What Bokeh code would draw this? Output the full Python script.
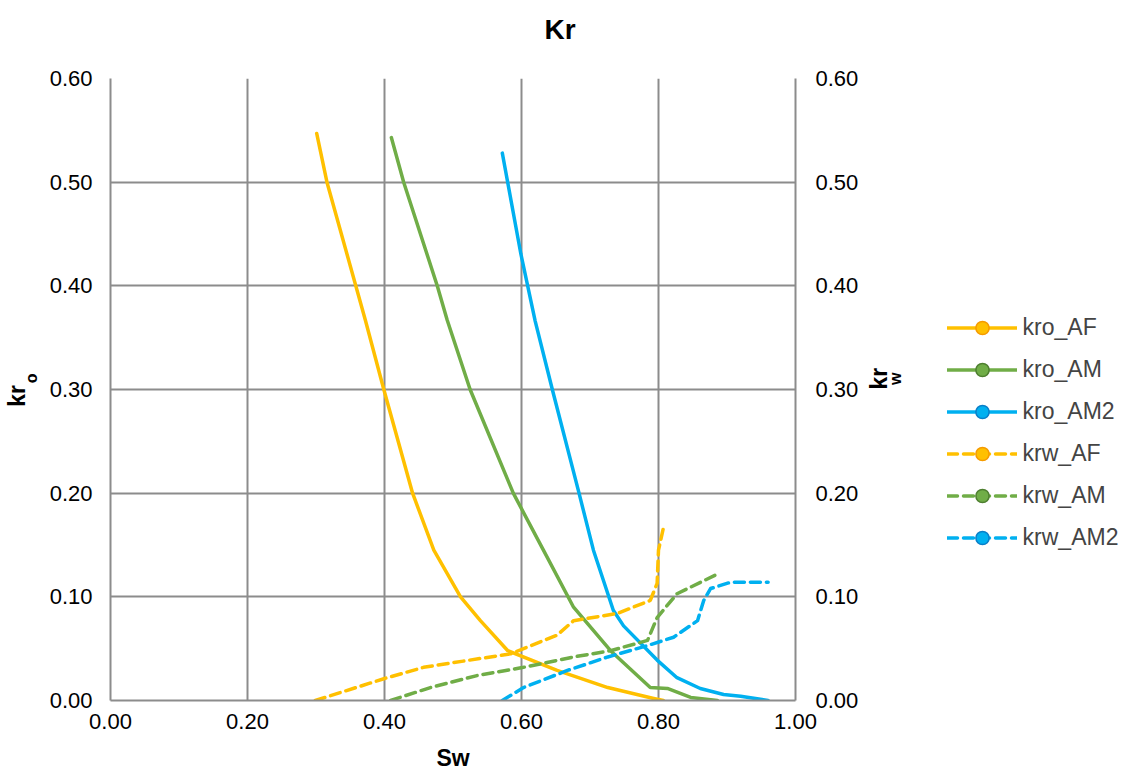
import math
from bokeh.plotting import figure
from bokeh.models import (ColumnDataSource, Range1d, LinearAxis, FixedTicker,
                          NumeralTickFormatter, Legend, LegendItem, Title)
from bokeh.embed import file_html
from bokeh.resources import INLINE

# ---- data ----
sw_kro_af = [0.301, 0.316, 0.372, 0.399, 0.441, 0.472, 0.511, 0.540, 0.580, 0.652, 0.726, 0.793, 0.807]
kro_af = [0.547, 0.500, 0.367, 0.300, 0.200, 0.145, 0.100, 0.077, 0.048, 0.029, 0.0125, 0.002, 0.0]

sw_kro_am = [0.410, 0.428, 0.477, 0.4915, 0.525, 0.588, 0.632, 0.676, 0.730, 0.788, 0.813, 0.847, 0.886]
kro_am = [0.543, 0.500, 0.400, 0.367, 0.300, 0.200, 0.145, 0.090, 0.048, 0.0125, 0.0116, 0.003, 0.0]

sw_kro_am2 = [0.572, 0.599, 0.620, 0.645, 0.684, 0.705, 0.734, 0.749, 0.798, 0.827, 0.861, 0.895, 0.920, 0.960]
kro_am2 = [0.528, 0.431, 0.366, 0.300, 0.200, 0.145, 0.087, 0.072, 0.039, 0.022, 0.0116, 0.0058, 0.004, 0.0]

sw_krw_af = [0.299, 0.399, 0.457, 0.515, 0.584, 0.652, 0.676, 0.740, 0.788, 0.798, 0.800, 0.807]
krw_af = [0.0, 0.021, 0.032, 0.038, 0.045, 0.063, 0.077, 0.084, 0.0965, 0.113, 0.145, 0.166]

sw_krw_am = [0.409, 0.467, 0.535, 0.603, 0.676, 0.730, 0.784, 0.798, 0.827, 0.883]
krw_am = [0.0, 0.0125, 0.024, 0.032, 0.042, 0.048, 0.058, 0.080, 0.103, 0.121]

sw_krw_am2 = [0.572, 0.603, 0.667, 0.726, 0.784, 0.822, 0.857, 0.866, 0.876, 0.905, 0.960]
krw_am2 = [0.0, 0.0125, 0.029, 0.042, 0.053, 0.061, 0.077, 0.0965, 0.108, 0.114, 0.114]

x_ticks = [0.0, 0.2, 0.4, 0.6, 0.8, 1.0]
y_ticks = [0.0, 0.1, 0.2, 0.3, 0.4, 0.5, 0.6]

series = [
    ("kro_AF", sw_kro_af, kro_af, "#FFC000", "#F59B00", "solid"),
    ("kro_AM", sw_kro_am, kro_am, "#70AD47", "#4E7F30", "solid"),
    ("kro_AM2", sw_kro_am2, kro_am2, "#00B0F0", "#0A7FC8", "solid"),
    ("krw_AF", sw_krw_af, krw_af, "#FFC000", "#F59B00", "10 6"),
    ("krw_AM", sw_krw_am, krw_am, "#70AD47", "#4E7F30", "10 6"),
    ("krw_AM2", sw_krw_am2, krw_am2, "#00B0F0", "#0A7FC8", "10 6"),
]

FONT = "Liberation Sans"
GRID = "#8C8C8C"
NB = "\u00a0"

p = figure(width=1125, height=778, frame_width=685, frame_height=622,
           x_range=Range1d(0, 1), y_range=Range1d(0, 0.6),
           output_backend="svg", toolbar_location=None,
           min_border_left=110, min_border_right=330,
           min_border_top=78, min_border_bottom=70)
p.outline_line_color = None
p.background_fill_color = "white"
p.border_fill_color = "white"

# spacer between title and frame
p.add_layout(Title(text=NB, text_font_size="10px", standoff=10), "above")

p.title.text = "Kr"
p.title.align = "left"
p.title.offset = 434
p.title.text_font = FONT
p.title.text_font_size = "28px"
p.title.text_font_style = "bold"
p.title.text_color = "#000000"
p.title.standoff = 22


def style_axis(ax, standoff):
    ax.ticker = FixedTicker(ticks=y_ticks)
    ax.formatter = NumeralTickFormatter(format="0.00")
    ax.major_tick_line_color = None
    ax.minor_tick_line_color = None
    ax.major_tick_out = 0
    ax.major_tick_in = 0
    ax.axis_line_color = GRID
    ax.axis_line_width = 2
    ax.major_label_text_font = FONT
    ax.major_label_text_font_size = "22px"
    ax.major_label_text_color = "#000000"
    ax.major_label_standoff = standoff


def label_axis(text, size, standoff, orientation=None):
    ax = LinearAxis(ticker=FixedTicker(ticks=[]), axis_line_color=None,
                    major_tick_line_color=None, minor_tick_line_color=None,
                    major_tick_out=0, major_tick_in=0, major_label_standoff=0,
                    axis_label=text, axis_label_text_font=FONT,
                    axis_label_text_font_size=size,
                    axis_label_text_font_style="bold",
                    axis_label_text_color="#000000",
                    axis_label_standoff=standoff)
    if orientation is not None:
        ax.axis_label_orientation = orientation
    return ax


style_axis(p.yaxis[0], 18)
p.add_layout(label_axis(NB * 5 + "o", "16px", 7), "left")
p.add_layout(label_axis("kr" + NB * 2, "23px", -10), "left")

right_axis = LinearAxis()
style_axis(right_axis, 20)
p.add_layout(right_axis, "right")
p.add_layout(label_axis("kr", "23px", 17, math.pi / 2), "right")
p.add_layout(label_axis(NB + "w", "16px", -12, math.pi / 2), "right")

xa = p.xaxis[0]
xa.ticker = FixedTicker(ticks=x_ticks)
xa.formatter = NumeralTickFormatter(format="0.00")
xa.major_tick_line_color = None
xa.minor_tick_line_color = None
xa.major_tick_out = 0
xa.major_tick_in = 0
xa.axis_line_color = GRID
xa.axis_line_width = 2
xa.major_label_text_font = FONT
xa.major_label_text_font_size = "22px"
xa.major_label_text_color = "#000000"
xa.major_label_standoff = 13
xa.axis_label = "Sw"
xa.axis_label_text_font = FONT
xa.axis_label_text_font_size = "23px"
xa.axis_label_text_font_style = "bold"
xa.axis_label_text_color = "#000000"
xa.axis_label_standoff = 13

p.xgrid.ticker = FixedTicker(ticks=x_ticks)
p.ygrid.ticker = FixedTicker(ticks=y_ticks)
for g in (p.xgrid[0], p.ygrid[0]):
    g.grid_line_color = GRID
    g.grid_line_width = 2

items = []
for name, xs, ys, col, edge, dash in series:
    src = ColumnDataSource(dict(x=xs, y=ys))
    lr = p.line("x", "y", source=src, line_color=col, line_width=3.5,
                line_dash=dash, line_join="round", line_cap="round")
    sr = p.scatter("x", "y", source=src, size=13, fill_color=col,
                   line_color=edge, line_width=1.5)
    sr.visible = False
    items.append(LegendItem(label=name, renderers=[lr, sr]))

legend = Legend(items=items, location=(-291, 146), orientation="vertical",
                glyph_width=70, glyph_height=33, label_height=20,
                spacing=9, padding=0, margin=0, label_standoff=6,
                label_text_font=FONT, label_text_font_size="23px",
                label_text_baseline="middle",
                border_line_color=None, background_fill_alpha=0)
p.add_layout(legend, "right")

open("out.html", "w").write(file_html(p, INLINE))
